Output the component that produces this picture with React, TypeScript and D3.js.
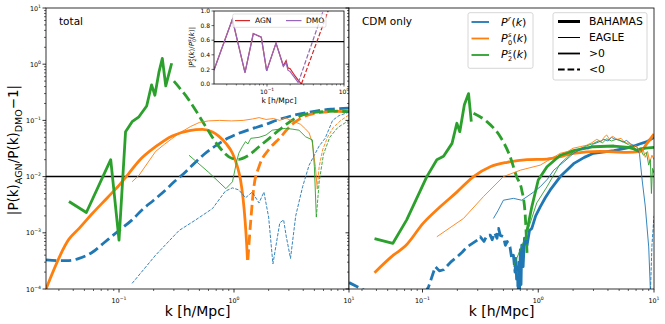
import React from 'react';
import * as d3 from 'd3';

type Pt = [number, number];

// ---------- left panel: total ----------
const totPrBahNeg: Pt[] = [[0.0232, 3.3e-4], [0.03, 3.2e-4], [0.0367, 3.2e-4], [0.045, 3.5e-4], [0.0586, 4.5e-4], [0.075, 6.8e-4], [0.1, 1.1e-3], [0.13, 1.7e-3], [0.16, 2.6e-3], [0.2, 3.8e-3], [0.25, 5.6e-3], [0.3, 8e-3], [0.36, 1.1e-2], [0.435, 1.6e-2], [0.55, 2.5e-2], [0.7, 3.6e-2], [0.9, 4.9e-2], [1.1, 5.9e-2], [1.4, 7e-2], [1.8, 8.2e-2], [2.5, 0.105], [3.4, 0.125], [5, 0.145], [7, 0.158], [10, 0.165]];
const totP0BahPos: Pt[] = [[0.0232, 1e-4], [0.0367, 7.7e-4], [0.045, 1.2e-3], [0.0586, 2.2e-3], [0.08, 4.3e-3], [0.1, 7e-3], [0.12, 1.1e-2], [0.149, 1.9e-2], [0.208, 3.4e-2], [0.29, 5.3e-2], [0.41, 6.6e-2], [0.53, 6.9e-2], [0.65, 6.2e-2], [0.74, 5.2e-2], [0.85, 3.9e-2], [0.97, 2.6e-2], [1.07, 1.5e-2], [1.14, 8.7e-3], [1.2, 4e-3], [1.25, 1.6e-3], [1.29, 6e-4], [1.31, 3.3e-4]];
const totP0BahNeg: Pt[] = [[1.32, 3.3e-4], [1.4, 1.7e-3], [1.49, 6.6e-3], [1.65, 1.5e-2], [2.0, 3e-2], [2.46, 4.7e-2], [3.2, 8.5e-2], [4, 0.115], [5.5, 0.138], [8, 0.145], [10, 0.142]];
const totP2BahPos: Pt[] = [[0.0367, 3.6e-3], [0.052, 2.3e-3], [0.0847, 0.02], [0.1, 7.4e-4], [0.114, 0.063], [0.13, 0.095], [0.149, 0.116], [0.174, 0.18], [0.192, 0.43], [0.205, 0.28], [0.223, 0.74], [0.238, 1.27], [0.255, 0.41], [0.287, 1.04]];
const totP2BahNeg: Pt[] = [[0.3, 0.5], [0.406, 0.23], [0.567, 0.078], [0.74, 0.034], [0.966, 0.021], [1.1, 0.0203], [1.3, 0.023], [1.65, 0.034], [2.0, 0.047], [2.46, 0.067], [3.44, 0.11], [5.2, 0.14], [8, 0.146], [10, 0.143]];
const totPrEagNeg: Pt[] = [[0.13, 1.26e-4], [0.208, 4e-4], [0.333, 1.1e-3], [0.465, 1.7e-3], [0.65, 2.7e-3], [0.84, 5.5e-3], [0.97, 6.3e-3], [1.1, 5.8e-3], [1.26, 4.2e-3], [1.44, 5.3e-3], [1.65, 3.4e-3], [1.82, 5.3e-3], [2.0, 1.9e-3], [2.18, 2.8e-4], [2.5, 1.5e-3], [2.7, 1.7e-3], [2.85, 8.5e-4], [3.1, 3.5e-4], [3.44, 2e-3], [3.95, 6.6e-3], [4.5, 1.6e-2], [5.5, 3.5e-2], [6.2, 4.8e-2], [7.2, 0.1], [8.2, 0.122], [10, 0.14]];
const totP0EagPos: Pt[] = [[0.13, 8.1e-3], [0.149, 1.05e-2], [0.208, 2.8e-2], [0.25, 3.8e-2], [0.333, 5.9e-2], [0.42, 7.8e-2], [0.5, 9.2e-2], [0.6, 9.8e-2], [0.75, 0.1], [0.95, 0.098], [1.2, 0.1], [1.45, 0.106], [1.65, 0.112], [1.9, 0.104], [2.2, 0.108], [2.5, 0.1], [2.8, 0.112], [3.1, 0.1], [3.4, 0.094], [3.8, 0.085], [4.2, 0.07], [4.5, 0.06], [4.8, 0.04], [5.1, 0.015], [5.3, 6e-3]];
const totP0EagNeg: Pt[] = [[5.3, 6e-3], [5.5, 1.5e-2], [5.9, 3e-2], [6.5, 5e-2], [7.3, 7.5e-2], [8.5, 0.1], [10, 0.125]];
const totP2EagPos: Pt[] = [[0.406, 0.024], [0.6, 0.012], [0.85, 6.1e-3], [0.97, 8.1e-3], [1.05, 1.8e-2], [1.1, 2.6e-2], [1.18, 3.4e-2], [1.26, 4.2e-2], [1.32, 3.8e-2], [1.4, 4.8e-2], [1.65, 5e-2], [1.9, 5.5e-2], [2.15, 6.7e-2], [2.5, 7e-2], [2.8, 7.2e-2], [3.2, 7e-2], [3.67, 6.7e-2], [4.2, 5.1e-2], [4.8, 4.5e-2], [5.0, 1.5e-2], [5.2, 1.9e-3]];
const totP2EagNeg: Pt[] = [[5.2, 1.9e-3], [5.5, 8e-3], [6, 2.5e-2], [6.8, 5e-2], [8, 7.5e-2], [10, 0.1]];

// ---------- right panel: CDM only ----------
const cdmPrBahNeg: Pt[] = [[0.0232, 1.3e-4], [0.033, 9e-5], [0.05, 5e-5], [0.09, 5e-5], [0.113, 1.1e-4], [0.129, 2.5e-4], [0.14, 2.1e-4], [0.152, 2.2e-4], [0.175, 3e-4], [0.198, 3.7e-4], [0.22, 4.5e-4], [0.242, 5.6e-4], [0.27, 6.5e-4], [0.3, 7.5e-4], [0.316, 8.5e-4], [0.34, 7e-4], [0.36, 9e-4], [0.385, 9.1e-4], [0.4, 7.5e-4], [0.42, 1e-3], [0.44, 8e-4], [0.454, 1.2e-3], [0.47, 9e-4], [0.5, 8.5e-4], [0.52, 6e-4], [0.54, 7e-4], [0.57, 5.6e-4], [0.59, 3.5e-4], [0.61, 4e-4], [0.63, 2e-4], [0.64, 3.5e-4], [0.65, 1.5e-4], [0.66, 2.5e-4], [0.67, 8e-5]];
const cdmPrBahPos: Pt[] = [[0.67, 8e-5], [0.68, 3e-4], [0.69, 1e-4], [0.7, 5e-4], [0.71, 1.2e-4], [0.72, 6e-4], [0.74, 2.5e-4], [0.76, 8e-4], [0.8, 6e-4], [0.84, 1.1e-3], [0.88, 1.2e-3], [0.95, 2e-3], [1.04, 2.9e-3], [1.15, 4.2e-3], [1.27, 5.8e-3], [1.55, 1e-2], [2.02, 1.7e-2], [2.5, 2.2e-2], [3.0, 2.6e-2], [4.5, 2.9e-2], [6.2, 3.3e-2], [7.5, 3.8e-2], [8.7, 4.2e-2], [10, 5e-2]];
const cdmP0BahPos: Pt[] = [[0.0385, 1.95e-4], [0.056, 4e-4], [0.071, 5.8e-4], [0.102, 1.5e-3], [0.142, 2.9e-3], [0.198, 5.3e-3], [0.276, 1e-2], [0.385, 1.5e-2], [0.54, 1.8e-2], [0.8, 2e-2], [1.19, 2.05e-2], [1.6, 2.3e-2], [2.02, 2.6e-2], [3.4, 2.8e-2], [5.8, 2.7e-2], [7.6, 2.8e-2], [8.7, 3.9e-2], [10, 5.7e-2]];
const cdmP2BahPos1: Pt[] = [[0.0385, 7.9e-4], [0.0555, 6.5e-4], [0.073, 1.7e-3], [0.109, 1e-2], [0.133, 2e-2], [0.152, 2.3e-2], [0.18, 3.9e-2], [0.198, 8.9e-2], [0.21, 6.3e-2], [0.23, 0.19], [0.25, 0.3], [0.264, 9.5e-2]];
const cdmP2BahNeg: Pt[] = [[0.276, 0.134], [0.36, 0.095], [0.47, 0.051], [0.57, 0.023], [0.65, 0.01], [0.72, 5.8e-3], [0.77, 2.2e-3], [0.8, 4.4e-4]];
const cdmP2BahPos2: Pt[] = [[0.8, 1.1e-3], [0.88, 2.9e-3], [1.0, 8.7e-3], [1.19, 1.5e-2], [1.55, 2.4e-2], [2.02, 2.9e-2], [3.0, 3.4e-2], [4.5, 3.5e-2], [6.0, 3.3e-2], [6.7, 3.1e-2], [7.2, 2.9e-2], [7.6, 3.1e-2], [8.5, 3.2e-2], [10, 3.3e-2]];
const cdmPrEagPos: Pt[] = [[0.41, 1.8e-3], [0.45, 2.5e-3], [0.5, 3.8e-3], [0.61, 4.1e-3], [0.72, 3.8e-3], [0.8, 4.4e-3], [0.91, 5.3e-3], [1.04, 6.6e-3], [1.2, 9e-3], [1.36, 1.3e-2], [1.7, 1.9e-2], [2.02, 2.6e-2], [2.3, 3e-2], [2.5, 3.3e-2], [2.7, 3.1e-2], [3.0, 3.8e-2], [3.4, 4.2e-2], [3.7, 4.6e-2], [4.0, 4.3e-2], [4.3, 5e-2], [4.5, 4.7e-2], [5.0, 4.5e-2], [5.4, 4.1e-2], [5.8, 4.4e-2], [6.3, 3.8e-2], [7.1, 3.4e-2], [7.5, 2.5e-2], [7.9, 8.7e-3], [8.4, 3e-3], [9.0, 5.6e-4], [9.3, 1e-4]];
const cdmPrEagNeg: Pt[] = [[9.3, 8e-5], [9.6, 6e-4], [10, 2e-3]];
const cdmP0EagPos: Pt[] = [[0.133, 8.5e-4], [0.226, 1.8e-3], [0.336, 4.4e-3], [0.5, 1e-2], [0.7, 1.3e-2], [1.04, 1.6e-2], [1.3, 2.1e-2], [1.55, 2.6e-2], [1.8, 2.8e-2], [2.0, 3.2e-2], [2.3, 3.4e-2], [2.6, 3.6e-2], [2.9, 4e-2], [3.2, 4.6e-2], [3.5, 4.2e-2], [3.7, 5e-2], [3.9, 5.5e-2], [4.1, 4.7e-2], [4.4, 5.2e-2], [4.8, 4.6e-2], [5.2, 4.8e-2], [5.6, 4e-2], [6.2, 3.9e-2], [6.6, 3.3e-2], [7.0, 3.6e-2], [7.6, 2.7e-2], [8.0, 3.2e-2], [8.4, 2.2e-2], [8.8, 2.8e-2], [9.2, 1.8e-2], [9.6, 2.4e-2], [10, 2e-2]];
const cdmP2EagPos: Pt[] = [[0.61, 2.5e-4], [0.8, 1e-3], [0.97, 3.4e-3], [1.19, 6.6e-3], [1.55, 1.7e-2], [2.02, 2.8e-2], [2.5, 3.4e-2], [3.0, 3.9e-2], [3.3, 4.3e-2], [3.6, 4e-2], [3.9, 4.7e-2], [4.3, 4.3e-2], [4.7, 4.6e-2], [5.4, 4.2e-2], [6.0, 3.7e-2], [6.6, 3.4e-2], [7.1, 3e-2], [7.6, 3.2e-2], [8.1, 2.4e-2], [8.6, 2.7e-2], [9.0, 1.6e-2], [9.3, 2e-2], [9.5, 5e-3], [9.7, 1.4e-2], [10, 1.15e-2]];

// ---------- inset: |P2/P0| ----------
const insetAgnPos: Pt[] = [[0.0205, 0.19], [0.0355, 0.886], [0.0518, 0.155], [0.0664, 0.69], [0.0843, 0.64], [0.099, 0.18], [0.131, 0.56], [0.163, 0.25], [0.177, 0.32], [0.187, 0.22], [0.2, 0.21], [0.231, 0.11], [0.26, 0.04], [0.28, 0.0]];
const insetAgnNeg: Pt[] = [[0.28, 0.0], [0.7, 1.15]];
const insetDmoPos: Pt[] = [[0.0205, 0.19], [0.0355, 0.886], [0.0518, 0.155], [0.0664, 0.69], [0.0843, 0.64], [0.099, 0.18], [0.131, 0.56], [0.163, 0.24], [0.177, 0.29], [0.187, 0.19], [0.2, 0.17], [0.231, 0.08], [0.255, 0.02]];
const insetDmoNeg: Pt[] = [[0.255, 0.02], [0.6, 1.15]];
const insetLevel = 0.58;
const refLevel = 0.01;

const xMajor = [0.1, 1, 10];
const xMajorExp = ['\u22121', '0', '1'];
const yMajor = [1e-4, 1e-3, 1e-2, 1e-1, 1, 10];
const yMajorExp = ['\u22124', '\u22123', '\u22122', '\u22121', '0', '1'];
const insetYTicks = [0, 0.2, 0.4, 0.6, 0.8, 1.0];
const insetXMajor = [0.1, 1];
const insetXExp = ['\u22121', '0'];

const C = { blue: '#1f77b4', orange: '#ff7f0e', green: '#2ca02c', red: '#d62728', purple: '#9467bd' };
const FONT = 'DejaVu Sans';

const W = 665, H = 324;
const TOP = 8, BOT = 289;
const LX0 = 46, MID = 349, RX1 = 654;
const kDom: [number, number] = [Math.pow(10, -1.635), 10];
const yS = d3.scaleLog().domain([1e-4, 10]).range([BOT, TOP]);
const xLeft = d3.scaleLog().domain(kDom).range([LX0, MID]);
const xRight = d3.scaleLog().domain(kDom).range([MID, RX1]);
const xIn = d3.scaleLog().domain([0.0205, 1]).range([214, 344]);
const yIn = d3.scaleLinear().domain([0, 1]).range([84, 11]);

const THICK = 2.8, THIN = 0.9;

type Series = { d: Pt[]; c: string; w: number; dash?: boolean; smooth?: boolean };

const leftSeries: Series[] = [
  { d: totPrBahNeg, c: C.blue, w: THICK, dash: true, smooth: true },
  { d: totP0BahPos, c: C.orange, w: THICK, smooth: true },
  { d: totP0BahNeg, c: C.orange, w: THICK, dash: true, smooth: true },
  { d: totP2BahPos, c: C.green, w: THICK },
  { d: totP2BahNeg, c: C.green, w: THICK, dash: true, smooth: true },
  { d: totPrEagNeg, c: C.blue, w: THIN, dash: true },
  { d: totP0EagPos, c: C.orange, w: THIN },
  { d: totP0EagNeg, c: C.orange, w: THIN, dash: true },
  { d: totP2EagPos, c: C.green, w: THIN },
  { d: totP2EagNeg, c: C.green, w: THIN, dash: true },
];

const rightSeries: Series[] = [
  { d: cdmPrBahNeg, c: C.blue, w: THICK, dash: true },
  { d: cdmPrBahPos, c: C.blue, w: THICK },
  { d: cdmP0BahPos, c: C.orange, w: THICK, smooth: true },
  { d: cdmP2BahPos1, c: C.green, w: THICK },
  { d: cdmP2BahNeg, c: C.green, w: THICK, dash: true, smooth: true },
  { d: cdmP2BahPos2, c: C.green, w: THICK },
  { d: cdmPrEagPos, c: C.blue, w: THIN },
  { d: cdmPrEagNeg, c: C.blue, w: THIN, dash: true },
  { d: cdmP0EagPos, c: C.orange, w: THIN },
  { d: cdmP2EagPos, c: C.green, w: THIN },
];

const dashOf = (w: number) => `${3.7 * w} ${1.6 * w}`;

function linePath(d: Pt[], xs: (v: number) => number, ys: (v: number) => number, smooth?: boolean) {
  const gen = d3.line<Pt>().x(p => xs(p[0])).y(p => ys(p[1]));
  if (smooth) gen.curve(d3.curveMonotoneX);
  return gen(d) || '';
}

function minorLog(lo: number, hi: number) {
  const out: number[] = [];
  for (let e = Math.floor(Math.log10(lo)); e <= Math.ceil(Math.log10(hi)); e++) {
    for (let m = 2; m <= 9; m++) {
      const v = m * Math.pow(10, e);
      if (v >= lo && v <= hi) out.push(v);
    }
  }
  return out;
}

function Pow({ x, y, exp, anchor, size }: { x: number; y: number; exp: string; anchor: string; size: number }) {
  return (
    <text x={x} y={y} textAnchor={anchor} fontSize={size} fontFamily={FONT}>
      10<tspan dy={-size * 0.45} fontSize={size * 0.72}>{exp}</tspan>
    </text>
  );
}

function MainPanel({ id, xs, x0, x1, series, yLabels, title }: any) {
  const minorX = minorLog(kDom[0], kDom[1]);
  const minorY = minorLog(1e-4, 10);
  return (
    <g>
      <rect x={x0} y={TOP} width={x1 - x0} height={BOT - TOP} fill="white" />
      <clipPath id={id}>
        <rect x={x0} y={TOP} width={x1 - x0} height={BOT - TOP} />
      </clipPath>
      <g clipPath={`url(#${id})`} fill="none">
        <line x1={x0} x2={x1} y1={yS(refLevel)} y2={yS(refLevel)} stroke="black" strokeWidth={1.5} />
        {series.map((s: Series, i: number) => (
          <path key={i} d={linePath(s.d, xs, yS, s.smooth)} stroke={s.c} strokeWidth={s.w}
            strokeDasharray={s.dash ? dashOf(s.w) : undefined} strokeLinejoin="round" />
        ))}
      </g>
      <rect x={x0} y={TOP} width={x1 - x0} height={BOT - TOP} fill="none" stroke="black" strokeWidth={0.8} />
      {xMajor.map(v => <line key={'xM' + v} x1={xs(v)} x2={xs(v)} y1={BOT} y2={BOT + 3.5} stroke="black" strokeWidth={0.8} />)}
      {minorX.map(v => <line key={'xm' + v} x1={xs(v)} x2={xs(v)} y1={BOT} y2={BOT + 2} stroke="black" strokeWidth={0.6} />)}
      {yMajor.map(v => <line key={'yM' + v} x1={x0 - 3.5} x2={x0} y1={yS(v)} y2={yS(v)} stroke="black" strokeWidth={0.8} />)}
      {minorY.map(v => <line key={'ym' + v} x1={x0 - 2} x2={x0} y1={yS(v)} y2={yS(v)} stroke="black" strokeWidth={0.6} />)}
      {xMajor.map((v, i) => <Pow key={'xl' + v} x={xs(v)} y={BOT + 14} exp={xMajorExp[i]} anchor="middle" size={6.4} />)}
      {yLabels && yMajor.map((v, i) => <Pow key={'yl' + v} x={x0 - 5} y={yS(v) + 2.5} exp={yMajorExp[i]} anchor="end" size={6.4} />)}
      <text x={(x0 + x1) / 2} y={315.5} textAnchor="middle" fontSize={14} fontFamily={FONT}>k [h/Mpc]</text>
      <text x={x0 + 13} y={25} fontSize={10.5} fontFamily={FONT}>{title}</text>
    </g>
  );
}

function Inset() {
  const minor = minorLog(0.0205, 1);
  return (
    <g>
      <rect x={214} y={11} width={130} height={73} fill="white" />
      <clipPath id="clipInset"><rect x={214} y={11} width={130} height={73} /></clipPath>
      <g clipPath="url(#clipInset)" fill="none">
        <line x1={214} x2={344} y1={yIn(insetLevel)} y2={yIn(insetLevel)} stroke="black" strokeWidth={1.2} />
        <path d={linePath(insetAgnPos, xIn, yIn)} stroke={C.red} strokeWidth={1.2} />
        <path d={linePath(insetAgnNeg, xIn, yIn)} stroke={C.red} strokeWidth={1.2} strokeDasharray={dashOf(1.2)} />
        <path d={linePath(insetDmoPos, xIn, yIn)} stroke={C.purple} strokeWidth={1.2} />
        <path d={linePath(insetDmoNeg, xIn, yIn)} stroke={C.purple} strokeWidth={1.2} strokeDasharray={dashOf(1.2)} />
      </g>
      <rect x={214} y={11} width={130} height={73} fill="none" stroke="black" strokeWidth={0.8} />
      {insetYTicks.map(v => (
        <g key={'iy' + v}>
          <line x1={211.5} x2={214} y1={yIn(v)} y2={yIn(v)} stroke="black" strokeWidth={0.6} />
          <text x={210} y={yIn(v) + 2.2} textAnchor="end" fontSize={6} fontFamily={FONT}>{v.toFixed(1)}</text>
        </g>
      ))}
      {insetXMajor.map((v, i) => (
        <g key={'ix' + v}>
          <line x1={xIn(v)} x2={xIn(v)} y1={84} y2={86.5} stroke="black" strokeWidth={0.6} />
          <Pow x={xIn(v)} y={93.5} exp={insetXExp[i]} anchor="middle" size={6} />
        </g>
      ))}
      {minor.map(v => <line key={'ixm' + v} x1={xIn(v)} x2={xIn(v)} y1={84} y2={85.5} stroke="black" strokeWidth={0.5} />)}
      <text x={279} y={102.5} textAnchor="middle" fontSize={7.5} fontFamily={FONT}>k [h/Mpc]</text>
      <text transform="translate(194,47.5) rotate(-90)" textAnchor="middle" fontSize={7} fontFamily={FONT}>
        |<tspan fontStyle="italic">P</tspan><tspan dy={-2.6} fontSize={5} fontStyle="italic">s</tspan><tspan dx={-2.6} dy={4.4} fontSize={5}>2</tspan>
        <tspan dy={-1.8}>(</tspan><tspan fontStyle="italic">k</tspan>)/<tspan fontStyle="italic">P</tspan><tspan dy={-2.6} fontSize={5} fontStyle="italic">s</tspan><tspan dx={-2.6} dy={4.4} fontSize={5}>0</tspan>
        <tspan dy={-1.8}>(</tspan><tspan fontStyle="italic">k</tspan>)|
      </text>
      <rect x={232.7} y={14} width={93.3} height={13.3} rx={1.5} fill="white" fillOpacity={0.8} stroke="#cccccc" strokeWidth={0.6} />
      <line x1={235} x2={250} y1={20.6} y2={20.6} stroke={C.red} strokeWidth={1.2} />
      <text x={255} y={23.2} fontSize={7.5} fontFamily={FONT}>AGN</text>
      <line x1={286} x2={301.5} y1={20.6} y2={20.6} stroke={C.purple} strokeWidth={1.2} />
      <text x={306} y={23.2} fontSize={7.5} fontFamily={FONT}>DMO</text>
    </g>
  );
}

// P with stacked super/subscript, drawn as separate small texts
function MathLabel({ x, y, sup, sub }: { x: number; y: number; sup: string; sub?: string }) {
  return (
    <g fontFamily={FONT}>
      <text x={x} y={y} fontSize={11} fontStyle="italic">P</text>
      <text x={x + 7} y={y - 4.8} fontSize={6.5} fontStyle="italic">{sup}</text>
      {sub ? <text x={x + 7} y={y + 3} fontSize={6.5}>{sub}</text> : null}
      <text x={x + (sub ? 11.4 : 10.4)} y={y} fontSize={11}>
        (<tspan fontStyle="italic">k</tspan>)
      </text>
    </g>
  );
}

function Legends() {
  const rows1 = [22, 38.5, 55];
  const cols = [C.blue, C.orange, C.green];
  const rows2 = [21.5, 37.5, 53.5, 69.5];
  const names2 = ['BAHAMAS', 'EAGLE', '>0', '<0'];
  const widths2 = [3, 1, 1.8, 1.8];
  return (
    <g>
      <rect x={468} y={12.7} width={65} height={55.6} rx={2} fill="white" fillOpacity={0.8} stroke="#cccccc" strokeWidth={0.8} />
      {rows1.map((r, i) => <line key={'l1' + i} x1={471.5} x2={489} y1={r} y2={r} stroke={cols[i]} strokeWidth={1.8} />)}
      <MathLabel x={501} y={rows1[0] + 3.8} sup="r" />
      <MathLabel x={501} y={rows1[1] + 3.4} sup="s" sub="0" />
      <MathLabel x={501} y={rows1[2] + 3.4} sup="s" sub="2" />
      <rect x={553} y={12.7} width={94} height={67.3} rx={2} fill="white" fillOpacity={0.8} stroke="#cccccc" strokeWidth={0.8} />
      {rows2.map((r, i) => (
        <g key={'l2' + i}>
          <line x1={558} x2={580} y1={r} y2={r} stroke="black" strokeWidth={widths2[i]}
            strokeDasharray={i === 3 ? dashOf(1.8) : undefined} />
          <text x={589} y={r + 3.8} fontSize={10.8} fontFamily={FONT}>{names2[i]}</text>
        </g>
      ))}
    </g>
  );
}

export default function App() {
  return (
    <svg width={W} height={H} style={{ position: 'absolute', left: 0, top: 0, background: 'white' }}>
      <rect x={0} y={0} width={W} height={H} fill="white" />
      <MainPanel id="clipL" xs={xLeft} x0={LX0} x1={MID} series={leftSeries} yLabels title="total" />
      <Inset />
      <MainPanel id="clipR" xs={xRight} x0={MID} x1={RX1} series={rightSeries} yLabels={false} title="CDM only" />
      <Legends />
      <text transform="translate(18,150) rotate(-90)" textAnchor="middle" fontSize={13.5} fontFamily={FONT}>
        |P(k)<tspan dy={3.5} fontSize={9.5}>AGN</tspan><tspan dy={-3.5}>/P(k)</tspan><tspan dy={3.5} fontSize={9.5}>DMO</tspan><tspan dy={-3.5}>−1|</tspan>
      </text>
    </svg>
  );
}
